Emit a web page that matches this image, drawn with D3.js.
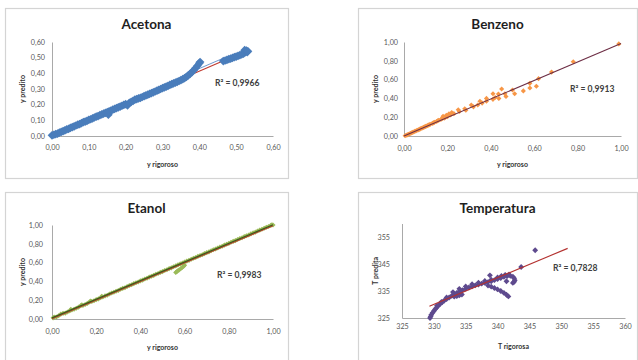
<!DOCTYPE html>
<html>
<head>
<meta charset="utf-8">
<script src="https://cdn.jsdelivr.net/npm/d3@7"></script>
<style>
  html, body { margin: 0; padding: 0; background: #fff; }
  svg { display: block; }
</style>
</head>
<body>
<svg id="chart" width="638" height="360"></svg>
<script>
// ---- Text ----
const panelTitles = ["Acetona", "Benzeno", "Etanol", "Temperatura"];
const xAxisTitles = ["y rigoroso", "y rigoroso", "y rigoroso", "T rigorosa"];
const yAxisTitles = ["y predito", "y predito", "y predito", "T predita"];
const r2Values = ["0,9966", "0,9913", "0,9983", "0,7828"];

// ---- Tick values ----
const fracTicks06 = [0, 0.1, 0.2, 0.3, 0.4, 0.5, 0.6];
const fracTicks10 = [0, 0.2, 0.4, 0.6, 0.8, 1.0];
const tempXTicks = [325, 330, 335, 340, 345, 350, 355, 360];
const tempYTicks = [325, 335, 345, 355];

// ---- Series: [rigoroso, predito] ----
const acetonaPts = [
  [0.000,0.004],[0.005,0.008],[0.010,0.012],[0.015,0.015],[0.020,0.022],[0.025,0.026],
  [0.030,0.031],[0.035,0.036],[0.040,0.042],[0.045,0.046],[0.050,0.052],[0.055,0.056],
  [0.060,0.061],[0.065,0.067],[0.070,0.072],[0.075,0.076],[0.080,0.082],[0.085,0.088],
  [0.090,0.092],[0.095,0.097],[0.100,0.103],[0.105,0.107],[0.110,0.112],[0.115,0.118],
  [0.120,0.123],[0.125,0.127],[0.130,0.133],[0.135,0.138],[0.140,0.143],[0.145,0.148],
  [0.150,0.152],[0.153,0.136],[0.155,0.158],[0.160,0.162],[0.165,0.168],[0.170,0.173],
  [0.175,0.178],[0.180,0.183],[0.185,0.188],[0.190,0.193],[0.195,0.198],[0.200,0.203],
  [0.205,0.196],[0.210,0.212],[0.215,0.218],[0.220,0.224],[0.225,0.232],[0.230,0.236],
  [0.235,0.240],[0.240,0.244],[0.245,0.249],[0.250,0.254],[0.255,0.259],[0.260,0.264],
  [0.265,0.269],[0.270,0.274],[0.275,0.279],[0.280,0.284],[0.285,0.289],[0.290,0.295],
  [0.295,0.300],[0.300,0.305],[0.305,0.310],[0.310,0.315],[0.315,0.320],[0.320,0.326],
  [0.325,0.331],[0.330,0.336],[0.335,0.341],[0.340,0.346],[0.345,0.351],[0.350,0.357],
  [0.355,0.363],[0.360,0.370],[0.365,0.378],[0.370,0.387],[0.375,0.397],[0.380,0.408],
  [0.385,0.420],[0.390,0.434],[0.395,0.449],[0.400,0.465],[0.402,0.472],
  [0.465,0.478],[0.470,0.482],[0.475,0.486],[0.480,0.490],[0.485,0.494],[0.490,0.498],
  [0.495,0.503],[0.500,0.507],[0.505,0.511],[0.510,0.516],[0.515,0.521],[0.520,0.526],
  [0.524,0.533],[0.527,0.540],[0.523,0.548],[0.530,0.536],[0.528,0.545],[0.532,0.541]
];

const benzenoPts = [
  [0.005,0.003],[0.010,0.008],[0.015,0.012],[0.020,0.018],[0.025,0.022],[0.030,0.030],
  [0.035,0.033],[0.040,0.040],[0.045,0.043],[0.050,0.050],[0.055,0.053],[0.060,0.061],
  [0.065,0.064],[0.070,0.070],[0.075,0.076],[0.080,0.082],[0.085,0.085],[0.090,0.092],
  [0.095,0.097],[0.100,0.102],[0.105,0.106],[0.110,0.113],[0.115,0.118],[0.120,0.124],
  [0.130,0.133],[0.135,0.140],[0.140,0.145],[0.150,0.155],[0.155,0.162],[0.160,0.168],
  [0.170,0.176],[0.175,0.185],[0.180,0.210],[0.185,0.190],[0.190,0.198],[0.195,0.220],
  [0.200,0.205],[0.207,0.235],[0.215,0.225],[0.220,0.250],[0.230,0.238],[0.250,0.280],
  [0.255,0.260],[0.280,0.290],[0.285,0.275],[0.310,0.330],[0.320,0.310],[0.340,0.330],
  [0.350,0.370],[0.360,0.350],[0.380,0.400],[0.380,0.370],[0.410,0.450],[0.410,0.390],
  [0.420,0.410],[0.437,0.400],[0.435,0.447],[0.450,0.500],[0.465,0.450],[0.470,0.420],
  [0.500,0.490],[0.510,0.450],[0.550,0.480],[0.580,0.560],[0.580,0.510],[0.610,0.530],
  [0.620,0.610],[0.680,0.680],[0.780,0.790],[0.990,0.980]
];

const etanolPts = [
  [0.005,0.012],[0.010,0.020],[0.020,0.022],[0.030,0.035],[0.040,0.052],[0.050,0.060],
  [0.060,0.062],[0.070,0.074],[0.080,0.086],[0.085,0.102],[0.090,0.095],[0.100,0.104],
  [0.110,0.114],[0.120,0.126],[0.130,0.142],[0.135,0.150],[0.140,0.145],[0.150,0.154],
  [0.160,0.166],[0.170,0.182],[0.175,0.192],[0.180,0.186],[0.190,0.194],[0.200,0.206],
  [0.210,0.214],[0.220,0.226],[0.225,0.242],[0.230,0.234],[0.240,0.246],[0.250,0.253],
  [0.260,0.266],[0.270,0.276],[0.280,0.284],[0.290,0.296],[0.300,0.303],[0.310,0.316],
  [0.320,0.326],[0.330,0.333],[0.340,0.346],[0.350,0.356],[0.360,0.364],[0.370,0.376],
  [0.380,0.385],[0.390,0.394],[0.400,0.406],[0.410,0.414],[0.420,0.426],[0.430,0.433],
  [0.440,0.446],[0.450,0.455],[0.460,0.464],[0.470,0.476],[0.480,0.484],[0.490,0.496],
  [0.500,0.504],[0.510,0.516],[0.520,0.524],[0.530,0.536],[0.540,0.544],[0.550,0.556],
  [0.560,0.495],[0.564,0.503],[0.569,0.512],[0.575,0.522],[0.582,0.535],[0.589,0.548],
  [0.595,0.560],[0.600,0.572],
  [0.560,0.565],[0.570,0.576],[0.580,0.586],[0.590,0.594],[0.600,0.606],[0.610,0.616],
  [0.620,0.624],[0.630,0.636],[0.640,0.646],[0.650,0.654],[0.660,0.666],[0.670,0.676],
  [0.680,0.684],[0.690,0.696],[0.700,0.706],[0.710,0.714],[0.720,0.726],[0.730,0.736],
  [0.740,0.744],[0.750,0.756],[0.760,0.766],[0.770,0.774],[0.780,0.786],[0.790,0.796],
  [0.800,0.804],[0.810,0.816],[0.820,0.826],[0.830,0.834],[0.840,0.846],[0.850,0.856],
  [0.860,0.864],[0.870,0.876],[0.880,0.886],[0.890,0.894],[0.900,0.906],[0.910,0.916],
  [0.920,0.924],[0.930,0.936],[0.940,0.946],[0.950,0.954],[0.960,0.966],[0.970,0.976],
  [0.980,0.984],[0.990,0.996],[0.995,1.003],[1.000,1.000]
];

const temperaturaPts = [
  [329.4,325.0],[329.5,325.6],[329.6,326.2],[329.8,326.9],[330.0,327.6],[330.2,328.2],
  [330.4,328.8],[330.7,329.5],[331.0,330.2],[331.3,330.8],[331.6,331.4],[332.0,332.0],
  [332.4,332.6],[332.8,333.2],[333.2,333.8],[333.6,334.3],[334.0,334.8],[334.5,335.3],
  [335.0,335.8],[335.5,336.3],[336.0,336.7],[336.5,337.1],[337.0,337.4],[337.5,337.7],
  [338.0,338.0],[338.5,338.3],[339.0,338.6],[339.5,339.0],[340.0,339.4],[340.5,339.8],
  [341.0,340.2],[341.5,340.5],[342.0,340.6],[342.4,340.3],[342.6,339.7],[342.7,339.0],
  [342.6,338.4],[342.4,338.0],
  [330.5,329.6],[331.2,331.0],[332.0,332.6],[333.0,334.6],[334.0,335.8],[335.0,336.7],
  [336.0,337.5],[337.0,338.1],[338.0,338.7],[339.0,339.2],[340.0,340.0],[340.6,340.6],
  [341.2,341.0],[341.8,341.1],
  [338.5,337.0],[339.0,336.6],[339.5,336.1],[340.0,335.6],[340.5,335.0],[341.0,334.3],
  [341.4,333.6],[341.7,333.0],
  [333.2,332.9],[333.6,333.1],[334.0,333.4],[334.4,333.7],
  [338.8,340.8],[341.4,338.6],[343.7,343.9],[345.9,350.1]
];

// ---- Linear trendlines: [slope, intercept, x start, x end] ----
const acetonaTrend = [1.015, 0.008, 0, 0.53];
const benzenoTrend = [0.985, 0.0, 0, 1.0];
const etanolTrend = [0.99, 0.003, 0, 1.0];
const temperaturaTrend = [0.986, 4.7, 329.3, 351];
// stretch of the acetona fit where the thin companion line shows between clusters
const acetonaBridge = [0.36, 0.465];

const ptBR = d3.formatLocale({decimal: ",", thousands: ".", grouping: [3], currency: ["R$", ""]});
const fmt2 = ptBR.format(".2f");
const fmt0 = ptBR.format("d");

const panels = [
  { frame: [5, 8, 283, 170], px: [52, 273], py: [136, 42],
    xDom: [0, 0.6], yDom: [0, 0.6], xTicks: fracTicks06, yTicks: fracTicks06, fmt: fmt2,
    data: acetonaPts, trend: acetonaTrend, color: "#4a7dbb", size: 38,
    trendColor: "#c0392f", trendBelow: true, r2: [163, 41], xTickDy: 11, yTickPad: 7 },
  { frame: [358, 8, 279, 170], px: [404, 621], py: [136, 42],
    xDom: [0, 1], yDom: [0, 1], xTicks: fracTicks10, yTicks: fracTicks10, fmt: fmt2,
    data: benzenoPts, trend: benzenoTrend, color: "#f79646", size: 13,
    trendColor: "#6d2e45", trendBelow: false, r2: [166, 47], xTickDy: 12, yTickPad: 6 },
  { frame: [5, 192, 283, 170], px: [52, 273], py: [319, 225],
    xDom: [0, 1], yDom: [0, 1], xTicks: fracTicks10, yTicks: fracTicks10, fmt: fmt2,
    data: etanolPts, trend: etanolTrend, color: "#9bbb59", size: 13,
    trendColor: "#c0392f", trendBelow: false, r2: [165, 50], xTickDy: 12.5, yTickPad: 9 },
  { frame: [358, 192, 279, 170], px: [402, 625], py: [318, 223.5],
    xDom: [325, 360], yDom: [325, 360], xTicks: tempXTicks, yTicks: tempYTicks, fmt: fmt0,
    data: temperaturaPts, trend: temperaturaTrend, color: "#5e4a8e", size: 17,
    trendColor: "#b3312f", trendBelow: false, r2: [151, 44], xTickDy: 8.5, yTickPad: 12 }
];

const svg = d3.select("#chart");
const FONT = "Lato, 'Open Sans', 'Liberation Sans', sans-serif";
const diamond = s => d3.symbol(d3.symbolSquare, s)();

panels.forEach((p, i) => {
  const g = svg.append("g");
  const [fx, fy, fw, fh] = p.frame;

  g.append("rect")
    .attr("x", fx + 0.5).attr("y", fy + 0.5)
    .attr("width", fw).attr("height", fh)
    .attr("fill", "#fff").attr("stroke", "#d4d4d4").attr("stroke-width", 1.2);

  const x = d3.scaleLinear().domain(p.xDom).range(p.px);
  const y = d3.scaleLinear().domain(p.yDom).range(p.py);

  // axes
  const xAxis = d3.axisBottom(x).tickValues(p.xTicks).tickFormat(p.fmt)
    .tickSizeInner(0).tickSizeOuter(0).tickPadding(p.xTickDy - 3);
  const yAxis = d3.axisLeft(y).tickValues(p.yTicks).tickFormat(p.fmt)
    .tickSizeInner(0).tickSizeOuter(0).tickPadding(p.yTickPad);

  const gx = g.append("g").attr("transform", `translate(0,${p.py[0]})`).call(xAxis);
  const gy = g.append("g").attr("transform", `translate(${p.px[0]},0)`).call(yAxis);
  [gx, gy].forEach(a => {
    a.select(".domain").attr("stroke", "#a9a9a9").attr("stroke-width", 1);
    a.selectAll("text").attr("fill", "#595959").attr("font-size", 7.2)
      .attr("font-family", FONT);
  });
  gx.selectAll("text").attr("dy", "0.35em").attr("y", p.xTickDy);

  // trendline geometry
  const [m, b, t0, t1] = p.trend;
  const trendPts = [[t0, m * t0 + b], [t1, m * t1 + b]];
  const line = d3.line().x(d => x(d[0])).y(d => y(d[1]));
  const drawTrend = () => {
    if (i === 0) {
      const bridge = acetonaBridge.map(v => [v, m * v + b]);
      g.append("path").attr("d", line(bridge))
        .attr("transform", "translate(0,-2.6)")
        .attr("fill", "none").attr("stroke", "#6f9ad0").attr("stroke-width", 1);
    }
    g.append("path").attr("d", line(trendPts))
      .attr("fill", "none").attr("stroke", p.trendColor).attr("stroke-width", 1.1);
    if (i === 2) {
      g.append("path").attr("d", line(trendPts))
        .attr("transform", "translate(0,-0.9)")
        .attr("fill", "none").attr("stroke", "#3f5a1c").attr("stroke-width", 1.3);
    }
  };

  if (p.trendBelow) drawTrend();

  // markers
  g.append("g").selectAll("path").data(p.data).join("path")
    .attr("d", diamond(p.size))
    .attr("transform", d => `translate(${x(d[0])},${y(d[1])}) rotate(45)`)
    .attr("fill", p.color);

  if (!p.trendBelow) drawTrend();

  // titles
  g.append("text").text(panelTitles[i])
    .attr("x", fx + fw / 2).attr("y", fy + 20.5)
    .attr("text-anchor", "middle").attr("font-family", FONT)
    .attr("font-weight", "bold").attr("font-size", 13.5).attr("fill", "#1f1f1f");

  g.append("text").text(xAxisTitles[i])
    .attr("x", (p.px[0] + p.px[1]) / 2).attr("y", p.py[0] + (i === 3 ? 28.7 : 28) + 2.5)
    .attr("text-anchor", "middle").attr("font-family", FONT)
    .attr("font-weight", "bold").attr("font-size", 7).attr("fill", "#333");

  const ycx = fx + 17, ycy = (p.py[0] + p.py[1]) / 2;
  g.append("text").text(yAxisTitles[i])
    .attr("transform", `translate(${ycx + 2.5},${ycy}) rotate(-90)`)
    .attr("text-anchor", "middle").attr("font-family", FONT)
    .attr("font-weight", "bold").attr("font-size", 7).attr("fill", "#333");

  g.append("text")
    .attr("x", p.px[0] + p.r2[0]).attr("y", p.py[1] + p.r2[1] + 3)
    .attr("font-family", FONT).attr("font-weight", "bold")
    .attr("font-size", 8.6).attr("fill", "#404040")
    .text("R² = " + r2Values[i]);
});
</script>
</body>
</html>
